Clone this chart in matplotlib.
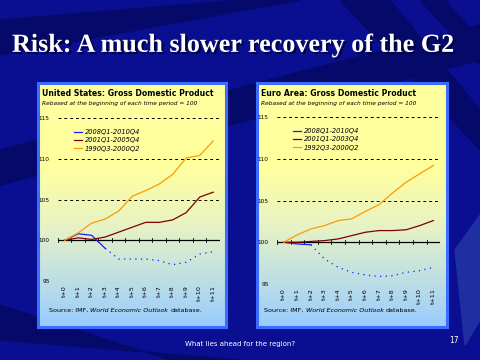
import numpy as np
import matplotlib
matplotlib.use("Agg")
import matplotlib.pyplot as plt
from matplotlib.patches import Polygon
import matplotlib.patheffects as pe

# quarters after start of each period
periods = ["t+0", "t+1", "t+2", "t+3", "t+4", "t+5",
           "t+6", "t+7", "t+8", "t+9", "t+10", "t+11"]

# United States GDP, rebased = 100
us_2008 = [100.0, 100.8, 100.6, 99.0, 97.7, 97.7, 97.7, 97.5, 97.0, 97.3, 98.3, 98.6]
us_2001 = [100.0, 100.3, 100.1, 100.4, 101.0, 101.6, 102.2, 102.2, 102.5, 103.4, 105.3, 105.9]
us_1990 = [100.0, 100.9, 102.1, 102.6, 103.6, 105.4, 106.1, 106.9, 108.1, 110.1, 110.4, 112.2]
us_labels = ["2008Q1-2010Q4", "2001Q1-2005Q4", "1990Q3-2000Q2"]

# Euro area GDP, rebased = 100
ea_2008 = [100.0, 99.8, 99.7, 98.0, 97.0, 96.4, 96.1, 95.9, 96.0, 96.4, 96.6, 97.0]
ea_2001 = [100.0, 100.0, 100.1, 100.2, 100.4, 100.8, 101.2, 101.4, 101.4, 101.5, 102.0, 102.6]
ea_1992 = [100.0, 100.9, 101.6, 102.0, 102.6, 102.8, 103.7, 104.5, 105.9, 107.2, 108.2, 109.2]
ea_labels = ["2008Q1-2010Q4", "2001Q1-2003Q4", "1992Q3-2000Q2"]

y_ticks = [95, 100, 105, 110, 115]

BLUE = "#1a1aff"
RED = "#800000"
ORANGE = "#ff9900"

fig = plt.figure(figsize=(4.8, 3.6), dpi=100)

# slide background with dark streaks
bg = fig.add_axes([0, 0, 1, 1], zorder=-10)
bg.set_xlim(0, 480)
bg.set_ylim(360, 0)
bg.axis("off")
bg.add_patch(Polygon([[0, 0], [480, 0], [480, 360], [0, 360]], color="#0a0f92"))
streaks = [
    [[0, 20], [0, 55], [300, 0], [240, 0]],
    [[0, 150], [0, 185], [480, 60], [480, 25]],
    [[340, 0], [390, 0], [480, 110], [480, 150]],
    [[0, 305], [0, 340], [240, 360], [170, 360]],
    [[420, 0], [445, 0], [480, 40], [480, 65]],
]
for s in streaks:
    bg.add_patch(Polygon(s, color="#05096a"))
bg.add_patch(Polygon([[455, 250], [480, 215], [480, 320], [465, 345]], color="#1f2ea0"))


def draw_panel(box, axbox, title, series, labels, solid_n, srcx):
    # panel with gradient fill and blue border
    pan = fig.add_axes(box, zorder=-5)
    grad = np.linspace(0, 1, 256)
    top = np.array([1.0, 1.0, 0.62])
    mid = np.array([0.90, 0.95, 0.78])
    bot = np.array([0.60, 0.80, 1.0])
    img = np.zeros((256, 1, 3))
    for i, g in enumerate(grad):
        if g < 0.35:
            img[i, 0] = top
        elif g < 0.6:
            f = (g - 0.35) / 0.25
            img[i, 0] = top * (1 - f) + mid * f
        else:
            f = (g - 0.6) / 0.4
            img[i, 0] = mid * (1 - f) + bot * f
    pan.imshow(img, aspect="auto", extent=[0, 1, 0, 1], origin="upper")
    pan.set_xlim(0, 1)
    pan.set_ylim(0, 1)
    pan.set_xticks([])
    pan.set_yticks([])
    for sp in pan.spines.values():
        sp.set_color("#3c6cff")
        sp.set_linewidth(2.2)
    pan.text(0.02, 0.975, title, fontsize=5.6, fontweight="bold",
             va="top", ha="left", transform=pan.transAxes)
    pan.text(0.02, 0.925, "Rebased at the beginning of each time period = 100",
             fontsize=4.2, style="italic", va="top", ha="left",
             transform=pan.transAxes)
    t1 = pan.text(srcx, 0.06, "Source: IMF, ", fontsize=4.6, va="baseline",
                  ha="left", transform=pan.transAxes)
    t2 = pan.annotate("World Economic Outlook ", xy=(1, 0), xycoords=t1,
                      fontsize=4.6, style="italic", va="bottom", ha="left")
    pan.annotate("database.", xy=(1, 0), xycoords=t2, fontsize=4.6,
                 va="bottom", ha="left")

    ax = fig.add_axes(axbox)
    ax.patch.set_alpha(0)
    x = np.arange(len(periods))
    s08, s01, s90 = series
    ax.plot(x[:solid_n], s08[:solid_n], color=BLUE, lw=0.9, label=labels[0])
    ax.plot(x[solid_n - 1:], s08[solid_n - 1:], color=BLUE, lw=0.9,
            ls=(0, (1, 3.5)))
    ax.plot(x, s01, color=RED, lw=0.9, label=labels[1])
    ax.plot(x, s90, color=ORANGE, lw=0.9, label=labels[2])
    ax.set_xlim(-0.5, 11.5)
    ax.set_ylim(95, 115)
    for yv in y_ticks:
        if yv == 100:
            ax.axhline(yv, color="black", lw=0.9, zorder=1)
        else:
            ax.axhline(yv, color="black", lw=0.7, ls=(0, (3, 3)), zorder=1)
    # category tick marks on the 100 line
    for b in np.arange(-0.5, 12, 1):
        ax.plot([b, b], [99.75, 100.25], color="black", lw=0.6, zorder=1)
    for sp in ax.spines.values():
        sp.set_visible(False)
    ax.set_xticks([])
    ax.set_yticks(y_ticks)
    ax.set_yticklabels([str(v) for v in y_ticks], fontsize=4.2)
    ax.tick_params(axis="y", length=0, pad=6)
    tr = ax.get_xaxis_transform()
    for xi, lab in zip(x, periods):
        ax.text(xi, -0.025, lab, rotation=90, fontsize=4.6, ha="center",
                va="top", transform=tr)
    ax.legend(loc="upper left", bbox_to_anchor=(0.06, 0.97), frameon=False,
              handlelength=1.2, handletextpad=0.5, labelspacing=0.35,
              prop={"style": "italic", "size": 4.8})
    return ax


draw_panel([0.079, 0.092, 0.392, 0.678], [0.1208, 0.2194, 0.3375, 0.4528],
           "United States: Gross Domestic Product",
           [us_2008, us_2001, us_1990], us_labels, 4, 0.06)
draw_panel([0.535, 0.092, 0.396, 0.678], [0.577, 0.211, 0.340, 0.464],
           "Euro Area: Gross Domestic Product",
           [ea_2008, ea_2001, ea_1992], ea_labels, 3, 0.04)

fig.text(0.025, 0.856, "Risk: A much slower recovery of the G2", color="white",
         fontsize=18.8, fontweight="bold", family="Liberation Serif",
         ha="left", va="baseline",
         path_effects=[pe.withSimplePatchShadow(offset=(1.5, -1.5),
                                                shadow_rgbFace="#000033",
                                                alpha=0.9)])
fig.text(0.5, 0.044, "What lies ahead for the region?", color="white",
         fontsize=5.0, ha="center", va="center")
fig.text(0.946, 0.053, "17", color="white", fontsize=5.5, ha="center",
         va="center")

fig.savefig("out.png", dpi=100)
